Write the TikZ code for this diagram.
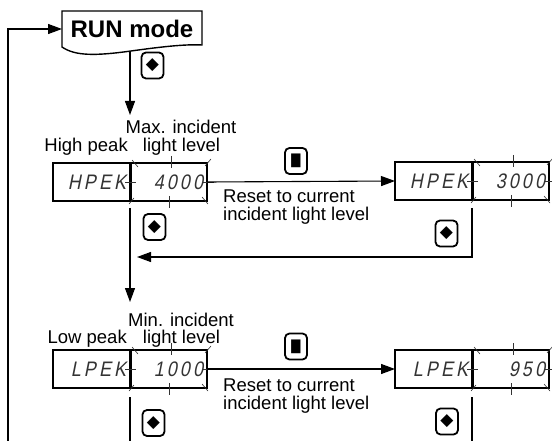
\documentclass[tikz,border=0pt]{standalone}
\usepackage{fontspec}
\setmainfont{Liberation Sans}
\newfontfamily\segfont[FakeSlant=0.2,FakeStretch=0.85,LetterSpace=15]{Liberation Sans}
\newfontfamily\symfont{DejaVu Sans}
\newfontfamily\sqfont[FakeStretch=0.68]{DejaVu Sans}
\usetikzlibrary{arrows.meta}
\newcommand\blinkticks[1]{%
  \draw[tick] ([shift={(2,-3)}]#1.north west) -- ([shift={(8,4)}]#1.north west);
  \draw[tick] ([shift={(-2,3)}]#1.north east) -- ([shift={(4,-4)}]#1.north east);
  \draw[tick] ([shift={(-5,-4)}]#1.south east) -- ([shift={(1,3)}]#1.south east);
  \draw[tick] ([shift={(4,-3)}]#1.south west) -- ([shift={(-1,3)}]#1.south west);
  \draw[tick] ([shift={(3,-7)}]#1.north) -- ([shift={(3,5)}]#1.north);
  \draw[tick] ([shift={(1,-5)}]#1.south) -- ([shift={(1,7)}]#1.south);
  \draw[tick] ([shift={(-5,0)}]#1.west) -- ([shift={(6,0)}]#1.west);
  \draw[tick] ([shift={(-4,0)}]#1.east) -- ([shift={(7,0)}]#1.east);
}
\begin{document}
\begin{tikzpicture}[x=1pt,y=-1pt,
  conn/.style={line width=1.1pt,-{Triangle[length=14pt,width=10pt]}},
  plain/.style={line width=1.1pt},
  lbl/.style={inner sep=0pt,font=\fontsize{18.5}{18}\selectfont},
  dispcell/.style={draw,line width=1.6pt,minimum height=38pt,text width=69pt,inner xsep=4pt,inner ysep=0pt,outer sep=0pt,align=right,anchor=north west,text=black!80,font=\segfont\fontsize{21}{21}\selectfont},
  divider/.style={line width=3pt},
  tick/.style={line width=0.6pt,black!80},
  key/.style={draw,line width=1.8pt,rounded corners=4.5pt,minimum width=22pt,minimum height=26pt,inner sep=0pt},
  dia/.style={font=\symfont\fontsize{17}{17}\selectfont},
  sq/.style={font=\sqfont\fontsize{18}{18}\selectfont},
]
\useasboundingbox (0,0) rectangle (552,441);

% RUN mode
\node[inner sep=0pt,outer sep=0pt,minimum width=140pt,minimum height=36pt,font=\bfseries\fontsize{24}{24}\selectfont] (run) at (132,29) {RUN mode};
\draw[line width=1.4pt] (run.south west) -- (run.north west) -- (run.north east) -- ([yshift=2pt]run.south east)
  .. controls (185,44) and (160,47) .. (131,51)
  .. controls (95,56) and (75,56) .. (run.south west) -- cycle;
\coordinate (loopbot) at (8,441);
\draw[conn] (loopbot) |- (run.west);
\node[key,dia] (k1) at (152.5,65.5) {◆};
\coordinate (a1) at (130,115);
\draw[conn] ([yshift=-4pt]run.south -| a1) -- (a1);

% High peak row
\node[lbl,anchor=base] (maxl) at (181,134) {Max. incident};
\node[lbl,anchor=base east] (hpl) at (128,152) {High peak};
\node[lbl,anchor=base] (ll1) at (181.5,152) {light level};
\node[dispcell] (hp1) at (53,163) {HPEK};
\node[dispcell] (hv1) at (hp1.north east) {4000};
\draw[divider] (hp1.north east) -- (hp1.south east);
\blinkticks{hv1}
\node[dispcell] (hp2) at (395,162) {HPEK};
\node[dispcell] (hv2) at (hp2.north east) {3000};
\draw[divider] (hp2.north east) -- (hp2.south east);
\blinkticks{hv2}
\draw[conn] (hv1.east) -- (hp2.west);
\node[key,sq] (k2) at (296,161) {■};
\node[lbl,anchor=base west] (rs1a) at (223,203) {Reset to current};
\node[lbl,anchor=base west] (rs1b) at (223,221) {incident light level};
\node[key,dia] (k3) at (446.5,233.5) {◆};
\coordinate (r1) at (137,257);
\draw[conn] ([yshift=-8pt]hp2.south east) |- (r1);
\node[key,dia] (k4) at (154.5,227) {◆};
\coordinate (a2) at (130,302);
\draw[conn] ([yshift=-7pt]hp1.south east) -- (a2);

% Low peak row
\node[lbl,anchor=base] (minl) at (181,326) {Min. incident};
\node[lbl,anchor=base east] (lpl) at (127,343) {Low peak};
\node[lbl,anchor=base] (ll2) at (181.5,343) {light level};
\node[dispcell] (lp1) at (53,350) {LPEK};
\node[dispcell] (lv1) at (lp1.north east) {1000};
\draw[divider] (lp1.north east) -- (lp1.south east);
\blinkticks{lv1}
\node[dispcell] (lp2) at (395,350) {LPEK};
\node[dispcell] (lv2) at (lp2.north east) {950};
\draw[divider] (lp2.north east) -- (lp2.south east);
\blinkticks{lv2}
\draw[conn] (lv1.east) -- (lp2.west);
\node[key,sq] (k5) at (296,346.5) {■};
\node[lbl,anchor=base west] (rs2a) at (223,391) {Reset to current};
\node[lbl,anchor=base west] (rs2b) at (223,409) {incident light level};
\node[key,dia] (k6) at (153.5,423) {◆};
\node[key,dia] (k7) at (447,421.5) {◆};
\coordinate (b1) at (130,441);
\coordinate (b2) at (472,441);
\draw[plain] ([yshift=-9pt]lp1.south east) -- (b1);
\draw[plain] ([yshift=-9pt]lp2.south east) -- (b2);
\end{tikzpicture}
\end{document}
